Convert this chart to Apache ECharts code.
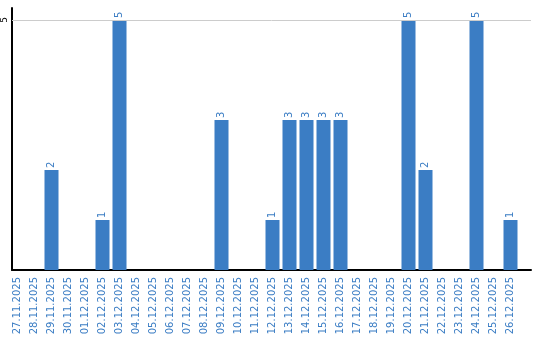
<!DOCTYPE html>
<html>
<head>
<meta charset="utf-8">
<script src="https://cdn.jsdelivr.net/npm/echarts@6/dist/echarts.min.js"></script>
<style>html,body{margin:0;padding:0;background:#fff}#c{width:540px;height:340px}</style>
</head>
<body>
<div id="c"></div>
<script>
const categories = ['27.11.2025','28.11.2025','29.11.2025','30.11.2025','01.12.2025','02.12.2025','03.12.2025','04.12.2025','05.12.2025','06.12.2025','07.12.2025','08.12.2025','09.12.2025','10.12.2025','11.12.2025','12.12.2025','13.12.2025','14.12.2025','15.12.2025','16.12.2025','17.12.2025','18.12.2025','19.12.2025','20.12.2025','21.12.2025','22.12.2025','23.12.2025','24.12.2025','25.12.2025','26.12.2025'];
const values = [0,0,2,0,0,1,5,0,0,0,0,0,3,0,0,1,3,3,3,3,0,0,0,5,2,0,0,5,0,1];
const yTickLabels = ['5'];
const gridLineValues = [5];

const blue = '#3b7dc4';
const font = 'DejaVu Sans';
const chart = echarts.init(document.getElementById('c'));
chart.setOption({
  animation: false,
  grid: [
    {left: 9, right: 21, top: 8, bottom: 70},
    {left: 10, right: 9, top: 8, bottom: 70}
  ],
  xAxis: [
    {type: 'category', gridIndex: 0, data: categories,
     axisLine: {show: false}, axisTick: {show: false},
     axisLabel: {rotate: 90, interval: 0, color: blue, fontSize: 10, fontFamily: font, margin: 7}},
    {type: 'value', gridIndex: 1, min: 0, max: 1,
     axisLine: {show: true, onZero: false, lineStyle: {color: '#000', width: 2}},
     axisTick: {show: false}, axisLabel: {show: false}, splitLine: {show: false}}
  ],
  yAxis: [
    {type: 'value', gridIndex: 0, min: 0, max: 5.24, show: false, splitLine: {show: false}},
    {type: 'value', gridIndex: 1, min: 0, max: 5.24, interval: 5,
     axisLine: {show: true, lineStyle: {color: '#000', width: 2}},
     axisTick: {show: false},
     axisLabel: {rotate: 90, color: '#000', fontSize: 9, fontFamily: font, margin: 3,
       formatter: v => yTickLabels.includes(String(v)) ? String(v) : ''},
     splitLine: {show: false}}
  ],
  series: [{
    type: 'bar', xAxisIndex: 0, yAxisIndex: 0, data: values,
    barWidth: 14,
    itemStyle: {color: blue},
    label: {show: true, position: 'top', rotate: 90, align: 'left', verticalAlign: 'middle',
      distance: 2, color: blue, fontSize: 10, fontFamily: font,
      formatter: p => p.value ? String(p.value) : ''}
  }, {
    type: 'line', xAxisIndex: 1, yAxisIndex: 1, data: [],
    markLine: {silent: true, symbol: 'none', label: {show: false},
      lineStyle: {color: '#cccccc', type: 'solid', width: 1},
      data: gridLineValues.map(v => ({yAxis: v}))}
  }]
});
</script>
</body>
</html>
